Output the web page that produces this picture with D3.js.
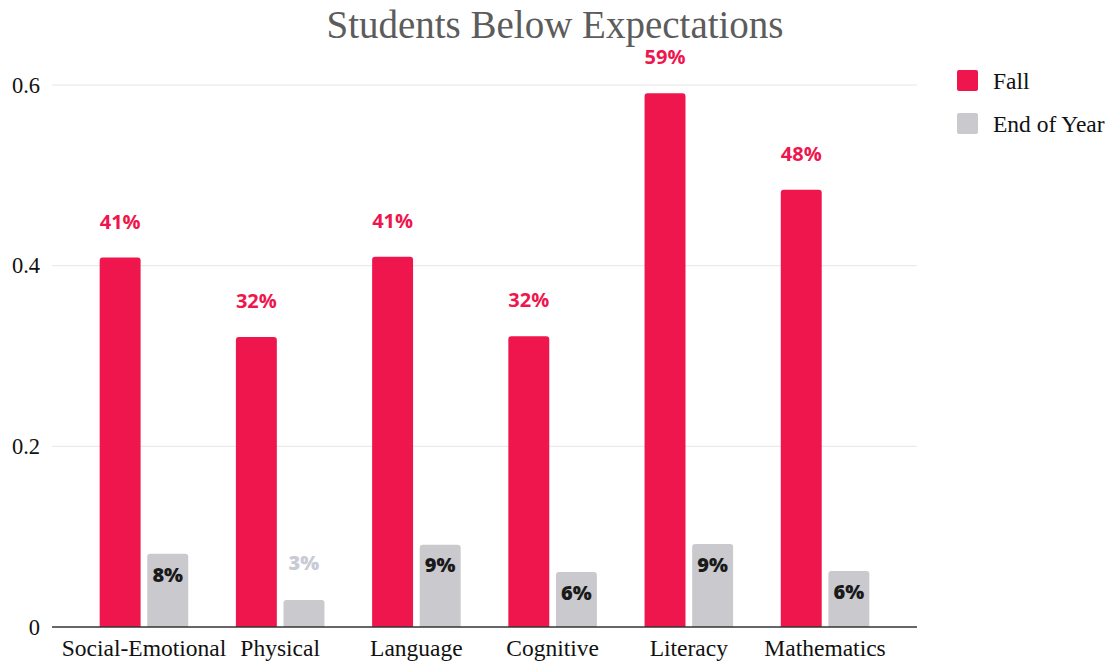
<!DOCTYPE html>
<html>
<head>
<meta charset="utf-8">
<script src="https://cdn.jsdelivr.net/npm/d3@7"></script>
<style>
  html, body { margin: 0; padding: 0; background: #ffffff; }
  svg { display: block; }
</style>
</head>
<body>
<svg id="chart" width="1112" height="662"></svg>
<script>
const categories = ["Social-Emotional", "Physical", "Language", "Cognitive", "Literacy", "Mathematics"];
const seriesNames = ["Fall", "End of Year"];
const fallValues = [0.409, 0.321, 0.41, 0.322, 0.591, 0.484];
const endOfYearValues = [0.081, 0.03, 0.091, 0.061, 0.092, 0.062];
const yTicks = [0, 0.2, 0.4, 0.6];
const title = "Students Below Expectations";

const colors = { "Fall": "#ef164e", "End of Year": "#c9c9ce" };

const svg = d3.select("#chart");
const plotLeft = 52, plotRight = 917, plotTop = 85, plotBottom = 627;

const y = d3.scaleLinear().domain([0, 0.6]).range([plotBottom, plotTop]);
const x0 = d3.scaleBand().domain(categories).range([plotLeft, plotRight]).paddingInner(0.35).paddingOuter(0.35);
const x1 = d3.scaleBand().domain(seriesNames).range([0, x0.bandwidth()]).paddingInner(0.14);

// gridlines
svg.append("g").selectAll("line").data(yTicks.filter(d => d > 0)).join("line")
  .attr("x1", plotLeft).attr("x2", plotRight)
  .attr("y1", d => y(d)).attr("y2", d => y(d))
  .attr("stroke", "#e6e6e6").attr("stroke-width", 1);

// y axis labels
const yAxis = d3.axisLeft(y).tickValues(yTicks).tickSize(0).tickPadding(12)
  .tickFormat(d => d === 0 ? "0" : d3.format(".1f")(d));
const yg = svg.append("g").attr("transform", `translate(${plotLeft},0)`).call(yAxis);
yg.select(".domain").remove();
yg.selectAll("text").attr("font-family", "Liberation Serif, serif").attr("font-size", 22.5).attr("fill", "#111");

const data = categories.map((c, i) => ({ cat: c, values: [
  { key: "Fall", value: fallValues[i] },
  { key: "End of Year", value: endOfYearValues[i] }
]}));

function roundedTop(x, yTop, w, h, r) {
  r = Math.min(r, h, w / 2);
  return `M${x},${yTop + h} L${x},${yTop + r} Q${x},${yTop} ${x + r},${yTop} L${x + w - r},${yTop} Q${x + w},${yTop} ${x + w},${yTop + r} L${x + w},${yTop + h} Z`;
}

const groups = svg.append("g").selectAll("g").data(data).join("g")
  .attr("transform", d => `translate(${x0(d.cat)},0)`);

groups.selectAll("path").data(d => d.values).join("path")
  .attr("d", d => roundedTop(x1(d.key), y(d.value), x1.bandwidth(), plotBottom - y(d.value), 3))
  .attr("fill", d => colors[d.key]);

// labels
groups.selectAll("text.lbl").data(d => d.values).join("text")
  .attr("class", "lbl")
  .attr("x", d => x1(d.key) + x1.bandwidth() / 2)
  .attr("y", d => {
    if (d.key === "Fall") return y(d.value) - 36;
    if (plotBottom - y(d.value) < 40) return y(d.value) - 37;
    return y(d.value) + 20.5;
  })
  .attr("dy", "0.36em")
  .attr("text-anchor", "middle")
  .attr("font-family", "Open Sans, sans-serif")
  .attr("font-weight", d => d.key === "Fall" ? 700 : 800)
  .attr("font-size", 20)
  .attr("fill", d => {
    if (d.key === "Fall") return "#ef164e";
    if (plotBottom - y(d.value) < 40) return "#c8cad6";
    return "#1a1a1a";
  })
  .text(d => Math.round(d.value * 100) + "%");

// baseline
svg.append("line").attr("x1", plotLeft).attr("x2", plotRight).attr("y1", plotBottom).attr("y2", plotBottom)
  .attr("stroke", "#333").attr("stroke-width", 1.5);

// x axis labels
const xAxis = d3.axisBottom(x0).tickSize(0).tickPadding(12);
const xg = svg.append("g").attr("transform", `translate(0,${plotBottom})`).call(xAxis);
xg.select(".domain").remove();
xg.selectAll("text").attr("font-family", "Liberation Serif, serif").attr("font-size", 23.5).attr("fill", "#111");

// title
svg.append("text").attr("x", 555).attr("y", 38).attr("text-anchor", "middle")
  .attr("font-family", "Liberation Serif, serif").attr("font-size", 39).attr("fill", "#5c5c5c")
  .text(title);

// legend
const legend = svg.append("g").attr("transform", "translate(957,70)");
const li = legend.selectAll("g").data(seriesNames).join("g")
  .attr("transform", (d, i) => `translate(0,${i * 43})`);
li.append("rect").attr("width", 21).attr("height", 21).attr("rx", 2).attr("fill", d => colors[d]);
li.append("text").attr("x", 36).attr("y", 10.5).attr("dy", "0.36em")
  .attr("font-family", "Liberation Serif, serif").attr("font-size", 23.5).attr("fill", "#111")
  .text(d => d);
</script>
</body>
</html>
